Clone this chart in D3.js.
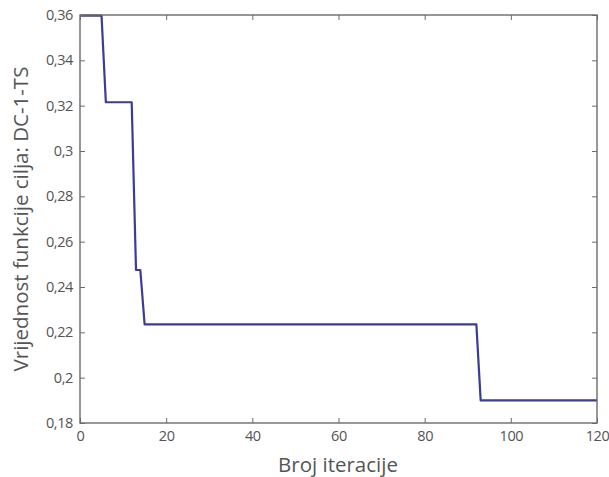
<!DOCTYPE html>
<html>
<head>
<meta charset="utf-8">
<script src="https://cdn.jsdelivr.net/npm/d3@7"></script>
<style>
  body { margin: 0; background: #fff; }
  svg text { font-family: "Open Sans", "Noto Sans", sans-serif; fill: #555; }
</style>
</head>
<body>
<svg id="canvas" width="609" height="477"></svg>
<script>
// vertices of the step line (iteration, objective value)
var iterations = [0, 5, 6, 12, 13, 14, 15, 92, 93, 120];
var values = [0.3597, 0.3597, 0.3215, 0.3215, 0.2475, 0.2475, 0.2235, 0.2235, 0.190, 0.190];

var xTicks = [0, 20, 40, 60, 80, 100, 120];
var yTicks = [0.18, 0.20, 0.22, 0.24, 0.26, 0.28, 0.30, 0.32, 0.34, 0.36];

var xLabel = "Broj iteracije";
var yLabel = "Vrijednost funkcije cilja: DC-1-TS";

// plot box (note: "top" is taken by window.top, so prefix them)
var boxLeft = 80, boxRight = 597, boxTop = 15, boxBottom = 423;
var axisColor = "#6f6a69";

var svg = d3.select("#canvas");

var x = d3.scaleLinear().domain([0, 120]).range([boxLeft, boxRight]);
var y = d3.scaleLinear().domain([0.18, 0.36]).range([boxBottom, boxTop]);

// comma decimal, trailing zeros dropped like the original
function fmt(v) {
  return (+v.toFixed(2)).toString().replace(".", ",");
}

// line first, box on top
var pts = iterations.map(function(d, i) { return [d, values[i]]; });
svg.append("path")
  .datum(pts)
  .attr("fill", "none")
  .attr("stroke", "#3b3b98")
  .attr("stroke-width", 2.2)
  .attr("stroke-linejoin", "round")
  .attr("d", d3.line().x(function(d) { return x(d[0]); }).y(function(d) { return y(d[1]); }));

// inward ticks on all four sides (matlab style)
var tl = 5;
var gx = svg.append("g").attr("transform", "translate(0," + boxBottom + ")")
  .call(d3.axisBottom(x).tickValues(xTicks).tickSize(-tl).tickPadding(8).tickFormat(d3.format("d")));
var gxt = svg.append("g").attr("transform", "translate(0," + boxTop + ")")
  .call(d3.axisTop(x).tickValues(xTicks).tickSize(-tl).tickFormat(""));
var gy = svg.append("g").attr("transform", "translate(" + boxLeft + ",0)")
  .call(d3.axisLeft(y).tickValues(yTicks).tickSize(-tl).tickPadding(7).tickFormat(fmt));
var gyr = svg.append("g").attr("transform", "translate(" + boxRight + ",0)")
  .call(d3.axisRight(y).tickValues(yTicks).tickSize(-tl).tickFormat(""));

[gx, gxt, gy, gyr].forEach(function(g) {
  g.select(".domain").remove();
  g.selectAll(".tick line").attr("stroke", axisColor).attr("stroke-width", 1);
  g.selectAll(".tick text")
    .attr("font-size", 14.5)
    .attr("letter-spacing", "-0.4px")
    .style("fill", "#555");
});

svg.append("rect")
  .attr("x", boxLeft).attr("y", boxTop)
  .attr("width", boxRight - boxLeft).attr("height", boxBottom - boxTop)
  .attr("fill", "none")
  .attr("stroke", axisColor)
  .attr("stroke-width", 1.4);

// axis titles
svg.append("text")
  .attr("x", 338)
  .attr("y", 472)
  .attr("text-anchor", "middle")
  .attr("font-size", 20.5)
  .text(xLabel);

svg.append("text")
  .attr("transform", "translate(28," + ((boxTop + boxBottom) / 2) + ") rotate(-90)")
  .attr("text-anchor", "middle")
  .attr("font-size", 20.5)
  .text(yLabel);
</script>
</body>
</html>
